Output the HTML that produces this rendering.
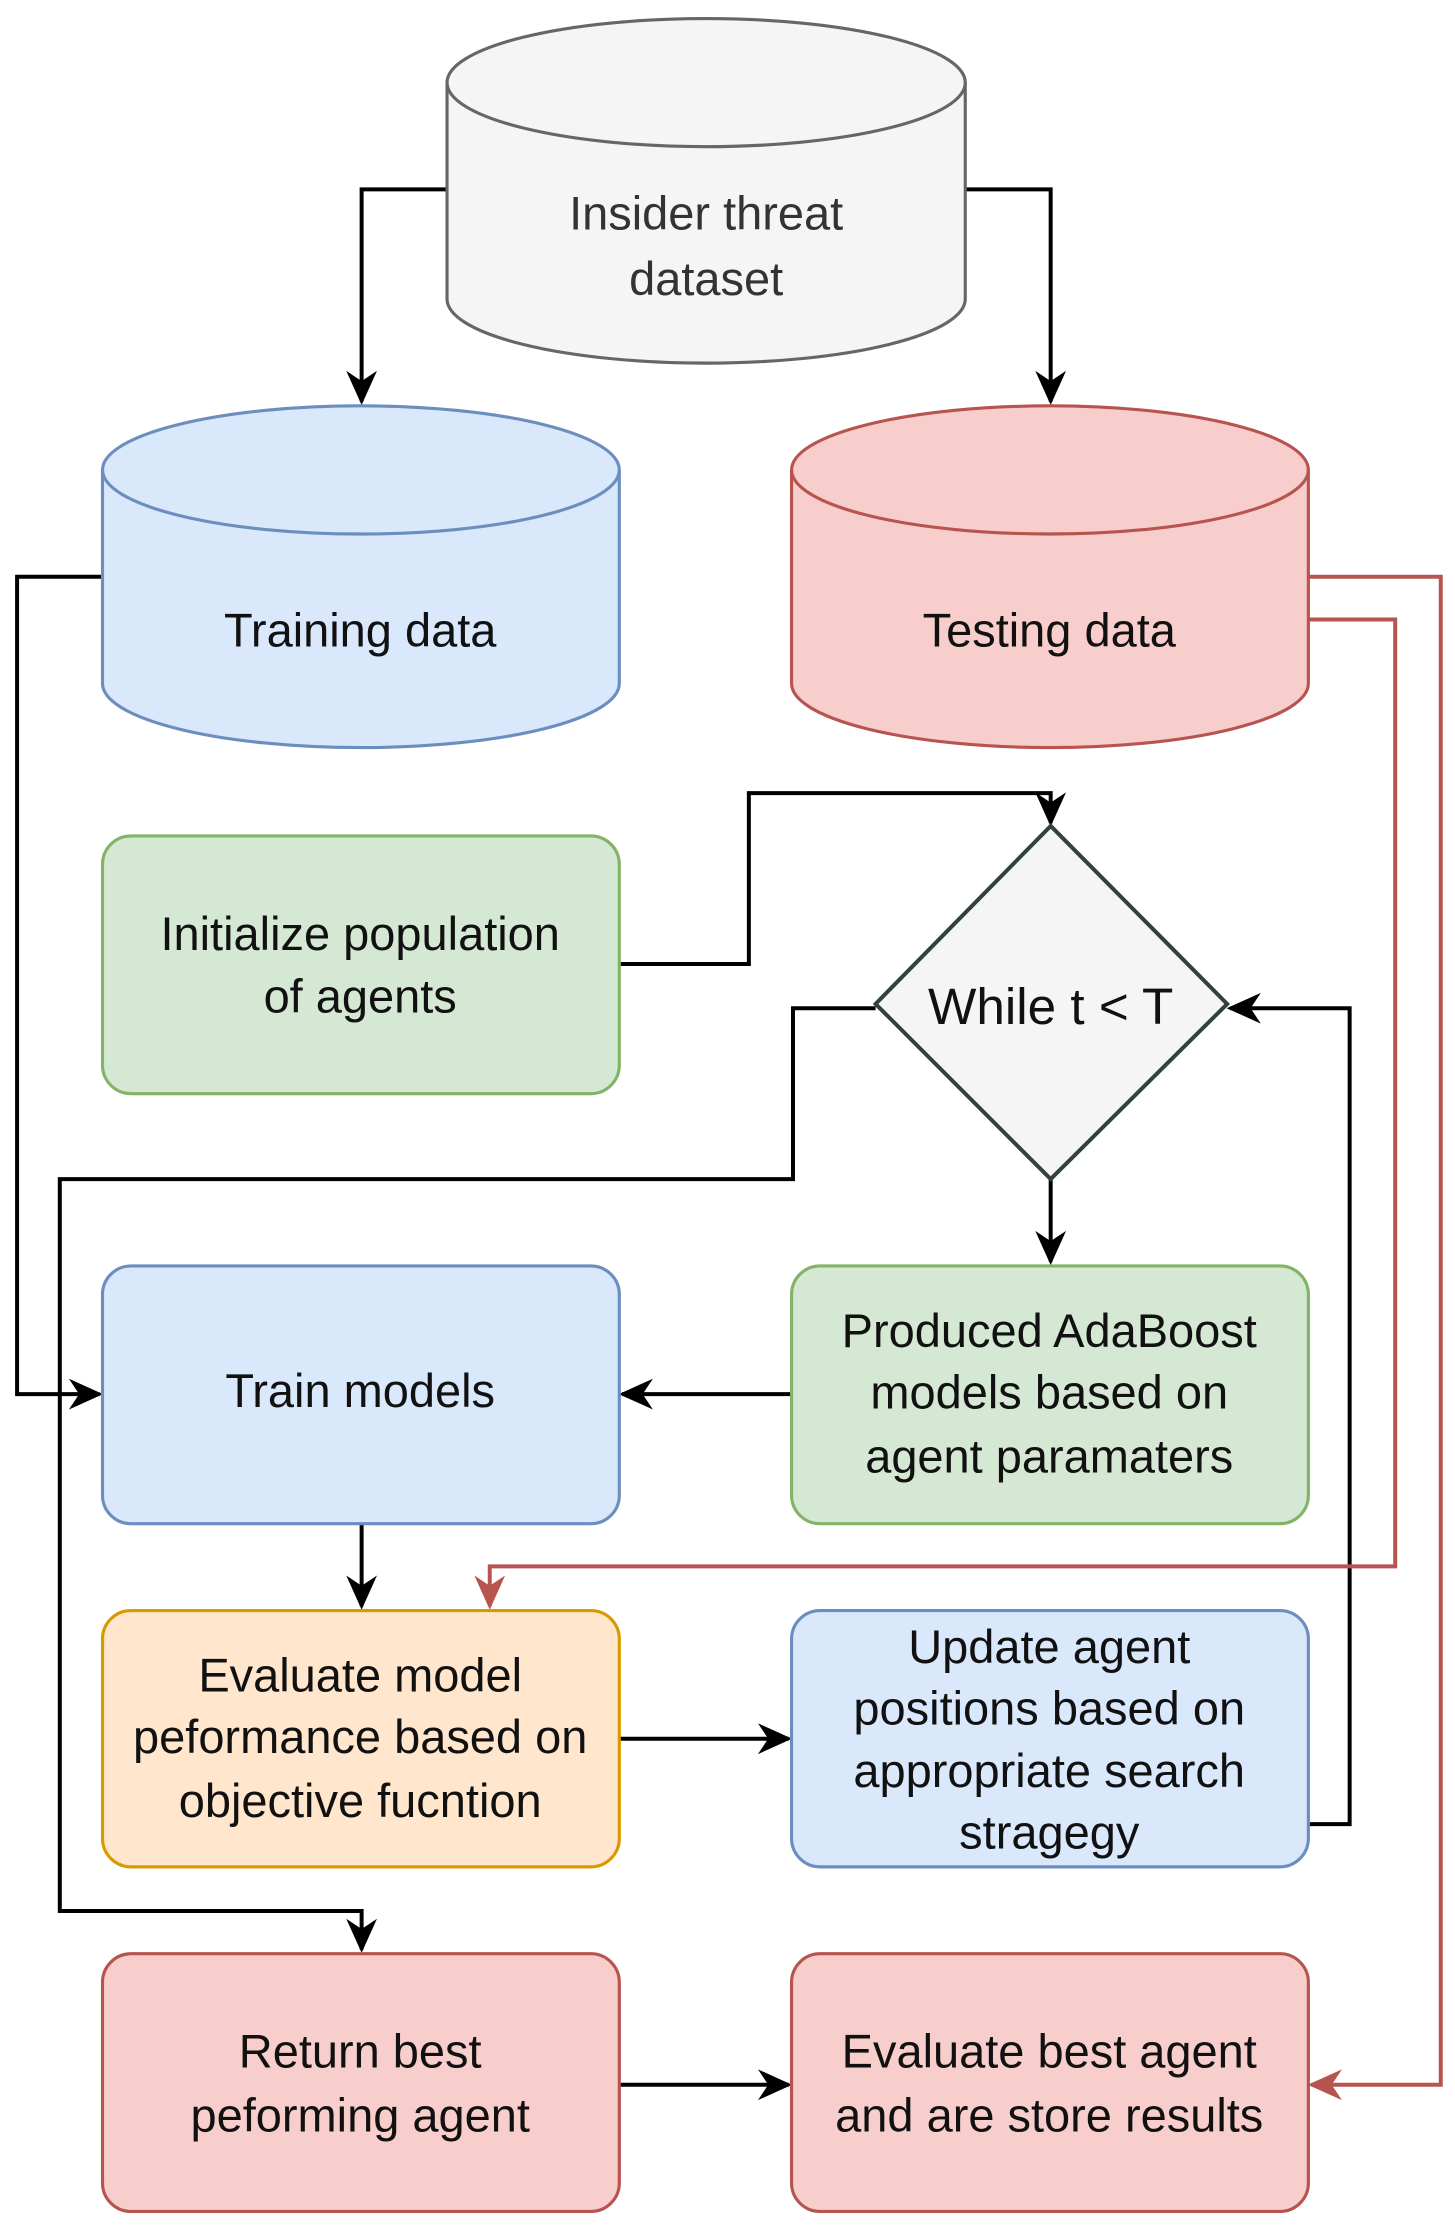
<!DOCTYPE html>
<html><head><meta charset="utf-8"><style>
html,body{margin:0;padding:0;background:#fff}
svg{display:block}
text{font-family:"Liberation Sans",sans-serif;font-size:33px;fill:#111;text-anchor:middle}
</style></head><body>
<svg width="1455" height="2230" viewBox="0 0 1022 1566" preserveAspectRatio="none" xmlns="http://www.w3.org/2000/svg">
<defs>
<marker id="a" viewBox="0 0 20 20" refX="18" refY="10" markerWidth="24" markerHeight="24" markerUnits="userSpaceOnUse" orient="auto"><path d="M0,1 L20,10 L0,19 L6,10 Z" fill="#000"/></marker>
<marker id="r" viewBox="0 0 20 20" refX="18" refY="10" markerWidth="24" markerHeight="24" markerUnits="userSpaceOnUse" orient="auto"><path d="M0,1 L20,10 L0,19 L6,10 Z" fill="#b85450"/></marker>
</defs>
<g fill="none" stroke="#000" stroke-width="2.8">
<polyline points="314,133 254,133 254,282" marker-end="url(#a)"/>
<polyline points="678,133 738,133 738,282" marker-end="url(#a)"/>
<polyline points="72,405 12,405 12,979 70,979" marker-end="url(#a)"/>
<polyline points="435,677 526,677 526,557 738,557 738,578" marker-end="url(#a)"/>
<polyline points="615,708 557,708 557,828 42,828 42,1342 254,1342 254,1369" marker-end="url(#a)"/>
<polyline points="738,828 738,886" marker-end="url(#a)"/>
<polyline points="556,979 437,979" marker-end="url(#a)"/>
<polyline points="254,1070 254,1128" marker-end="url(#a)"/>
<polyline points="435,1221 554,1221" marker-end="url(#a)"/>
<polyline points="919,1281 948,1281 948,708 864,708" marker-end="url(#a)"/>
<polyline points="435,1464 554,1464" marker-end="url(#a)"/>
</g>
<g fill="none" stroke="#b85450" stroke-width="2.8">
<polyline points="919,405 1012,405 1012,1464 921,1464" marker-end="url(#r)"/>
<polyline points="919,435 980,435 980,1100 344,1100 344,1128" marker-end="url(#r)"/>
</g>
<g stroke-width="2.2">
<path d="M314,58 A182,45 0 0 1 678,58 L678,210 A182,45 0 0 1 314,210 Z" fill="#f5f5f5" stroke="#666"/>
<path d="M314,58 A182,45 0 0 0 678,58" fill="none" stroke="#666"/>
<path d="M72,330 A181.5,45 0 0 1 435,330 L435,480 A181.5,45 0 0 1 72,480 Z" fill="#dae8fc" stroke="#6c8ebf"/>
<path d="M72,330 A181.5,45 0 0 0 435,330" fill="none" stroke="#6c8ebf"/>
<path d="M556,330 A181.5,45 0 0 1 919,330 L919,480 A181.5,45 0 0 1 556,480 Z" fill="#f8cecc" stroke="#b85450"/>
<path d="M556,330 A181.5,45 0 0 0 919,330" fill="none" stroke="#b85450"/>
<rect x="72" y="587" width="363" height="181" rx="20" fill="#d5e8d4" stroke="#82b366"/>
<rect x="556" y="889" width="363" height="181" rx="20" fill="#d5e8d4" stroke="#82b366"/>
<rect x="72" y="889" width="363" height="181" rx="20" fill="#dae8fc" stroke="#6c8ebf"/>
<rect x="72" y="1131" width="363" height="180" rx="20" fill="#ffe6cc" stroke="#d79b00"/>
<rect x="556" y="1131" width="363" height="180" rx="20" fill="#dae8fc" stroke="#6c8ebf"/>
<rect x="72" y="1372" width="363" height="181" rx="20" fill="#f8cecc" stroke="#b85450"/>
<rect x="556" y="1372" width="363" height="181" rx="20" fill="#f8cecc" stroke="#b85450"/>
<path d="M738,580 L862,705 L738,828 L615,705 Z" fill="#f5f5f5" stroke="#334040" stroke-width="2.8"/>
</g>
<text x="496" y="161" style="fill:#333">Insider threat</text>
<text x="496" y="207" style="fill:#333">dataset</text>
<text x="253" y="454">Training data</text>
<text x="737" y="454">Testing data</text>
<text x="253" y="667">Initialize population</text>
<text x="253" y="711">of agents</text>
<text x="738" y="719" style="font-size:36px">While t &lt; T</text>
<text x="737" y="946">Produced AdaBoost</text>
<text x="737" y="989">models based on</text>
<text x="737" y="1034">agent paramaters</text>
<text x="253" y="988">Train models</text>
<text x="253" y="1188">Evaluate model</text>
<text x="253" y="1231">peformance based on</text>
<text x="253" y="1276">objective fucntion</text>
<text x="737" y="1168">Update agent</text>
<text x="737" y="1211">positions based on</text>
<text x="737" y="1255">appropriate search</text>
<text x="737" y="1298">stragegy</text>
<text x="253" y="1452">Return best</text>
<text x="253" y="1497">peforming agent</text>
<text x="737" y="1452">Evaluate best agent</text>
<text x="737" y="1497">and are store results</text>
</svg>
</body></html>
